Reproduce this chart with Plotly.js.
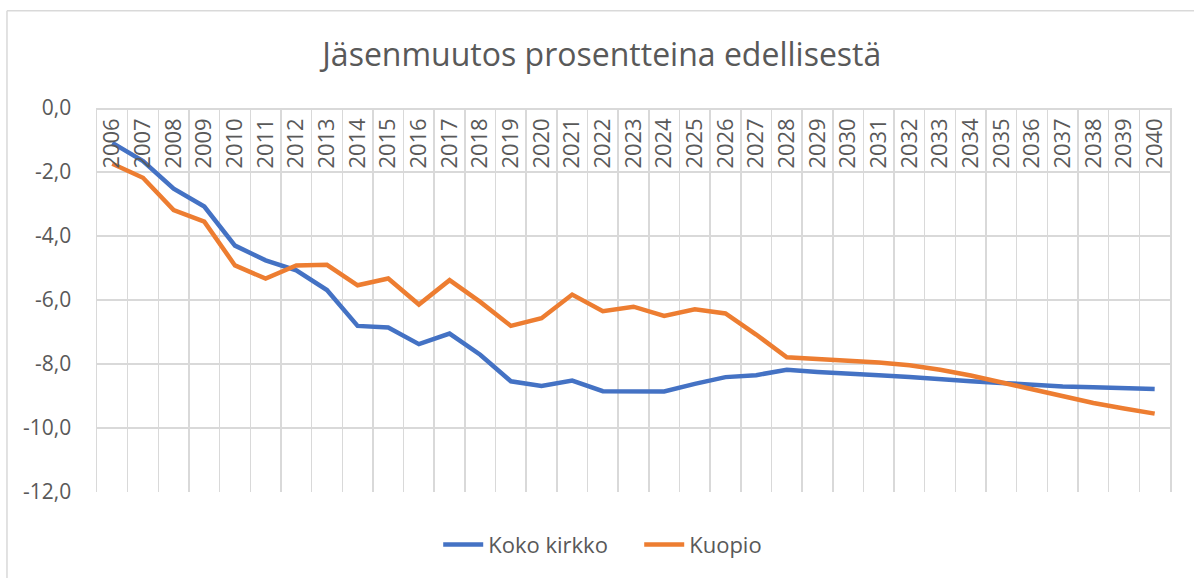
<!DOCTYPE html>
<html>
<head>
<meta charset="utf-8">
<script src="https://cdn.plot.ly/plotly-3.0.1.min.js"></script>
<style>html,body{margin:0;padding:0;background:#fff;}#chart{width:1194px;height:578px;}</style>
</head>
<body>
<div id="chart"></div>
<script>
const years = ['2006','2007','2008','2009','2010','2011','2012','2013','2014','2015','2016','2017','2018','2019','2020','2021','2022','2023','2024','2025','2026','2027','2028','2029','2030','2031','2032','2033','2034','2035','2036','2037','2038','2039','2040'];
const kokoKirkko = [-1.09,-1.66,-2.52,-3.08,-4.30,-4.76,-5.07,-5.69,-6.81,-6.86,-7.38,-7.05,-7.71,-8.54,-8.69,-8.52,-8.85,-8.86,-8.86,-8.62,-8.41,-8.35,-8.18,-8.25,-8.29,-8.35,-8.41,-8.49,-8.54,-8.59,-8.66,-8.70,-8.73,-8.77,-8.78];
const kuopio = [-1.74,-2.18,-3.19,-3.55,-4.92,-5.33,-4.92,-4.90,-5.54,-5.33,-6.14,-5.38,-6.06,-6.81,-6.57,-5.83,-6.35,-6.21,-6.50,-6.29,-6.42,-7.08,-7.79,-7.84,-7.89,-7.95,-8.04,-8.18,-8.36,-8.57,-8.80,-9.02,-9.22,-9.39,-9.55];
const yTickVals = [0,-2,-4,-6,-8,-10,-12];
const yTickText = ['0,0','-2,0','-4,0','-6,0','-8,0','-10,0','-12,0'];

const grey = '#d9d9d9';
const txt = '#595959';
const font = 'Open Sans, Noto Sans, sans-serif';

const traces = [
  {x: years, y: kokoKirkko, name: 'Koko kirkko', type: 'scatter', mode: 'lines',
   line: {color: '#4472C4', width: 4.5}},
  {x: years, y: kuopio, name: 'Kuopio', type: 'scatter', mode: 'lines',
   line: {color: '#ED7D31', width: 4.5}}
];

const layout = {
  width: 1194, height: 578,
  margin: {l: 97, r: 24, t: 108, b: 83, pad: 0},
  paper_bgcolor: '#fff', plot_bgcolor: '#fff',
  title: {text: 'Jäsenmuutos prosentteina edellisestä', x: 0.504, xref: 'container', y: 0.905, yref: 'container', yanchor: 'middle', xanchor: 'center',
          font: {family: font, size: 32, color: txt}},
  xaxis: {type: 'category', anchor: 'free', position: 1, side: 'bottom',
          tickangle: -90, tickson: 'boundaries', ticks: '',
          showgrid: true, gridcolor: grey, gridwidth: 1.5,
          showline: true, linecolor: grey, linewidth: 1.5,
          tickfont: {family: font, size: 22, color: txt},
          range: [-0.5, 34.5], fixedrange: true},
  yaxis: {range: [-12, 0], tickvals: yTickVals, ticktext: yTickText,
          showgrid: true, gridcolor: grey, gridwidth: 1.5, zeroline: false,
          showline: true, mirror: true, linecolor: grey, linewidth: 1.5,
          ticks: '', ticklabelstandoff: 20,
          tickfont: {family: font, size: 21, color: txt}, fixedrange: true},
  legend: {orientation: 'h', x: 0.318, xanchor: 'left', y: -0.137, yanchor: 'middle',
           entrywidth: 146, entrywidthmode: 'pixels',
           font: {family: font, size: 22, color: txt}, itemwidth: 40, tracegroupgap: 0},
  showlegend: true,
  shapes: [
    {type: 'line', xref: 'paper', yref: 'paper', x0: -0.0839, x1: -0.0839, y0: 1.2532, y1: -0.3, line: {color: grey, width: 1.5}},
    {type: 'line', xref: 'paper', yref: 'paper', x0: -0.0839, x1: 1.1, y0: 1.2532, y1: 1.2532, line: {color: grey, width: 1.5}}
  ]
};

Plotly.newPlot('chart', traces, layout, {displayModeBar: false, staticPlot: true});
</script>
</body>
</html>
